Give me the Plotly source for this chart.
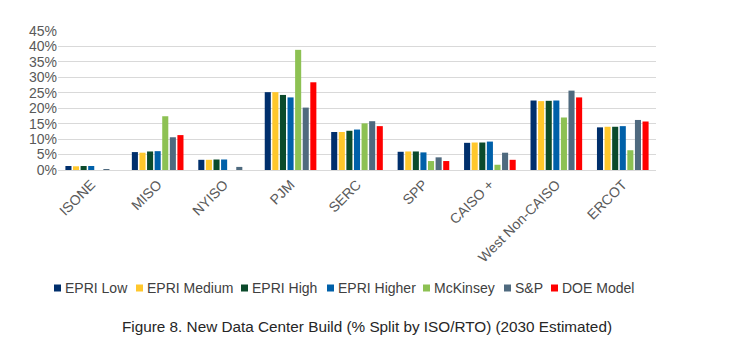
import plotly.graph_objects as go

categories = ["ISONE", "MISO", "NYISO", "PJM", "SERC", "SPP", "CAISO +", "West Non-CAISO", "ERCOT"]

epri_low = [1.3, 5.8, 3.3, 25.2, 12.3, 5.9, 8.8, 22.5, 13.8]
epri_medium = [1.2, 5.6, 3.3, 25.2, 12.3, 6.0, 8.9, 22.3, 14.0]
epri_high = [1.3, 6.0, 3.4, 24.3, 12.7, 6.0, 8.9, 22.4, 14.0]
epri_higher = [1.3, 6.1, 3.4, 23.5, 13.1, 5.7, 9.2, 22.5, 14.2]
mckinsey = [0.0, 17.4, 0.0, 38.9, 15.1, 2.9, 1.7, 17.0, 6.4]
sp = [0.2, 10.6, 1.0, 20.2, 15.8, 4.1, 5.6, 25.7, 16.2]
doe_model = [0.0, 11.3, 0.0, 28.4, 14.2, 2.9, 3.3, 23.5, 15.7]

series_names = ["EPRI Low", "EPRI Medium", "EPRI High", "EPRI Higher", "McKinsey", "S&P", "DOE Model"]
series_values = [epri_low, epri_medium, epri_high, epri_higher, mckinsey, sp, doe_model]
colors = ["#002F6C", "#FFC72C", "#0B4A2B", "#0060A9", "#8DC153", "#4F6A7F", "#FF0000"]

y_ticks = [0, 5, 10, 15, 20, 25, 30, 35, 40, 45]

FONT = "Liberation Sans, Arial, sans-serif"

fig = go.Figure()
for name, vals, col in zip(series_names, series_values, colors):
    fig.add_trace(go.Bar(x=categories, y=vals, name=name, marker=dict(color=col, line=dict(width=0)),
                         showlegend=False))

fig.update_layout(
    width=751, height=344,
    margin=dict(l=58, r=95, t=31, b=174),
    paper_bgcolor="white", plot_bgcolor="white",
    barmode="group", bargap=0.2, bargroupgap=0.2,
    font=dict(family=FONT, size=13, color="#595959"),
    showlegend=False,
)
fig.update_yaxes(range=[0, 45], tickvals=y_ticks, ticktext=[f"{t}%" for t in y_ticks],
                 showgrid=True, gridcolor="#D9D9D9", gridwidth=1, zeroline=False,
                 showline=False, ticks="", tickfont=dict(size=14, color="#595959"))
fig.update_xaxes(showline=True, linecolor="#D9D9D9", linewidth=1, ticks="",
                 tickangle=-45, tickfont=dict(size=14, color="#595959"))

# custom compact legend (positions taken from the reference layout)
legend_x = [54, 136, 241, 327, 423, 504, 551]
legend_y = 288
for lx, name, col in zip(legend_x, series_names, colors):
    fig.add_shape(type="rect", xref="paper", yref="paper",
                  x0=(lx - 58) / 598, x1=(lx + 7 - 58) / 598,
                  y0=(344 - 174 - (legend_y + 3.5)) / 139, y1=(344 - 174 - (legend_y - 3.5)) / 139,
                  fillcolor=col, line=dict(width=0))
    fig.add_annotation(text=name, xref="paper", yref="paper", x=(lx + 9 - 58) / 598,
                       y=(344 - 174 - legend_y) / 139, xanchor="left", yanchor="middle",
                       showarrow=False, font=dict(family=FONT, size=14, color="#404040"))

fig.add_annotation(text="Figure 8. New Data Center Build (% Split by ISO/RTO) (2030 Estimated)",
                   xref="paper", yref="paper", x=(367 - 58) / 598, y=(344 - 174 - 326) / 139,
                   xanchor="center", yanchor="middle", showarrow=False,
                   font=dict(family=FONT, size=15.3, color="#262626"))

fig.write_html("out.html")
